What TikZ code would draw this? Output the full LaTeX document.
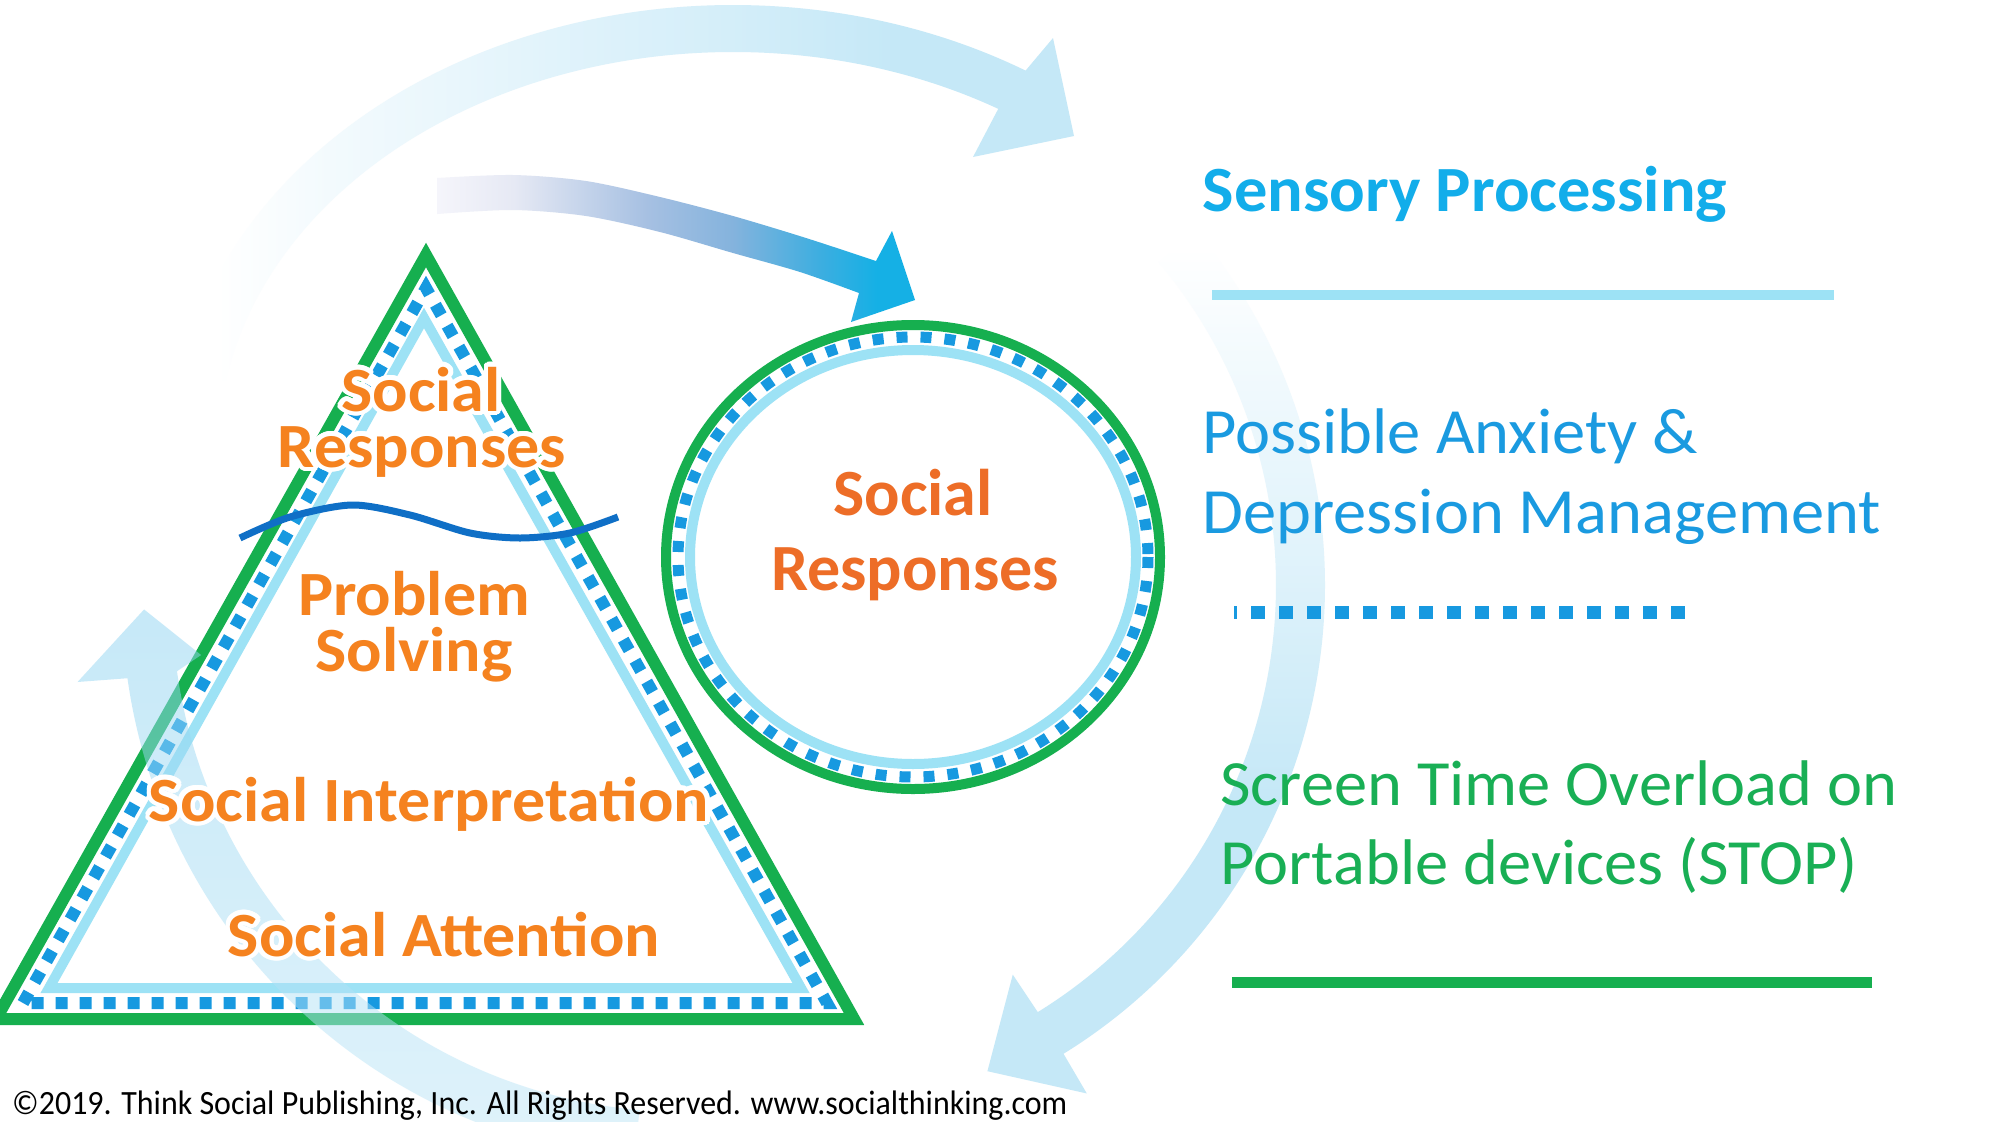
\documentclass[tikz,border=0pt]{standalone}
\usepackage{fontspec}
\setmainfont{Carlito}
\newfontfamily\copyfont[FakeStretch=0.94]{Carlito}
\newfontfamily\trifont[FakeStretch=1.048]{Carlito}
\newfontfamily\sidefont[FakeStretch=1.03]{Carlito}
\usepackage[copies]{contour}
\contourlength{4.5pt}
\contournumber{24}
\usetikzlibrary{calc}
\definecolor{arcblue}{HTML}{C5E8F7}
\definecolor{arcdeep}{HTML}{8FD4F2}
\definecolor{grn}{HTML}{16AF4F}
\definecolor{lblue}{HTML}{9DE2F5}
\definecolor{dblue}{HTML}{1799E0}
\definecolor{wave}{HTML}{0F6FC6}
\definecolor{orgT}{HTML}{F5821F}
\definecolor{orgC}{HTML}{ED6D27}
\definecolor{sens}{HTML}{12ADEA}
\definecolor{anx}{HTML}{1A9AE0}
\definecolor{stop}{HTML}{19AF55}
\definecolor{mA}{HTML}{F5F5FB}
\definecolor{mB}{HTML}{E6E9F4}
\definecolor{mC}{HTML}{A6C0E2}
\definecolor{mD}{HTML}{84B3DD}
\definecolor{mE}{HTML}{3DAEE0}
\definecolor{mF}{HTML}{15B0E5}
\pgfdeclarehorizontalshading{midshade}{100bp}{color(0bp)=(mA); color(25bp)=(mA); color(33bp)=(mB); color(47bp)=(mC); color(56bp)=(mD); color(65bp)=(mE); color(71bp)=(mF); color(100bp)=(mF)}
\pgfdeclarehorizontalshading{topshade}{100bp}{color(0bp)=(white); color(27bp)=(white); color(33bp)=(arcblue!20); color(47bp)=(arcblue!55); color(56bp)=(arcblue!75); color(65bp)=(arcblue); color(100bp)=(arcblue)}
\pgfdeclareverticalshading{rightshade}{100bp}{color(0bp)=(arcblue); color(42bp)=(arcblue); color(48bp)=(arcblue!80); color(56bp)=(arcblue!53); color(62bp)=(arcblue!38); color(68bp)=(arcblue!20); color(74bp)=(white); color(100bp)=(white)}
\pgfdeclarelayer{bg}
\pgfdeclarelayer{band}
\pgfsetlayers{bg,band,main}
\begin{document}
\begin{tikzpicture}[x=1pt,y=-1pt,
  tritext/.style={font=\trifont\fontsize{63}{63}\selectfont\bfseries, text=orgT, inner sep=0pt, anchor=base},
  circtext/.style={font=\fontsize{66}{66}\selectfont\bfseries, text=orgC, inner sep=0pt, anchor=base},
  sidetext/.style={font=\sidefont\fontsize{64.5}{64.5}\selectfont, inner sep=0pt, anchor=base west},
  greenline/.style={draw=grn, line width=12pt},
  dotline/.style={draw=dblue, line width=12pt, dash pattern=on 12pt off 12pt},
  paleline/.style={draw=lblue, line width=10pt}]
\useasboundingbox (0,0) rectangle (1998,1122);
\coordinate (tc) at (733,450);
\coordinate (rc) at (774,585);
\coordinate (lc) at (684,600);
\coordinate (cc) at (913,557);

\begin{pgfonlayer}{bg}
\fill[white] (0,0) rectangle (1998,1122);
% top big arc (elliptic)
\shade[shading=topshade]
 ($(tc)+(-170:560 and 445)$) arc[start angle=-170, end angle=-58.5, x radius=560, y radius=445]
 -- (1053,38) -- (1074,136) -- (973,157)
 -- ($(tc)+(-59:515 and 398)$) arc[start angle=-59, end angle=-170, x radius=515, y radius=398] -- cycle;
% right big arc
\shade[shading=rightshade]
 ($(rc)+(-40:551)$) arc[start angle=-40, end angle=58.3, radius=551]
 -- ($(rc)+(58.4:597)$) -- ($(rc)+(66.3:531)$) -- ($(rc)+(58.5:457)$)
 -- ($(rc)+(58.3:502)$) arc[start angle=58.3, end angle=-40, radius=502] -- cycle;
% middle gradient arrow
\shade[shading=midshade]
 plot[smooth] coordinates {(437,178) (513,175) (586,181) (660,197) (733,216) (806,238) (876,261)}
 -- (892,231) -- (915,300) -- (851,322)
 -- plot[smooth] coordinates {(859,293) (800,272) (733,253) (660,232) (586,216) (513,210) (437,214)}
 -- cycle;
% triangle
\draw[paleline, line join=miter] (49,988) -- (424,318) -- (801,988) -- cycle;
\draw[dotline] (23,1003) -- (426,288) -- (827,1003) -- cycle;
\draw[greenline, line join=miter] (-4,1019) -- (426,255) -- (854,1019) -- cycle;
% circle rings
\draw[draw=lblue, line width=10pt] (cc) ellipse [x radius=223, y radius=207];
\draw[draw=dblue, line width=11pt, dash pattern=on 11pt off 13pt] (cc) ellipse [x radius=235, y radius=220];
\draw[draw=grn, line width=10pt] (cc) ellipse [x radius=247, y radius=232];
% wavy line
\draw[wave, line width=7pt] plot[smooth] coordinates {(240,538) (290,517) (352,505) (410,515) (470,533) (520,538) (570,533) (618,517)};
% right-side lines
\draw[draw=lblue, line width=10pt] (1212,295) -- (1834,295);
\draw[draw=dblue, line width=13pt, dash pattern=on 14pt off 14pt, dash phase=11pt] (1234,612) -- (1685,612);
\draw[draw=grn, line width=11pt] (1232,982) -- (1872,982);
\end{pgfonlayer}

\begin{pgfonlayer}{band}
% lower-left big arc (semi transparent, over the triangle)
\shade[top color=arcdeep, bottom color=arcdeep!55, opacity=0.5]
 ($(lc)+(95:562)$) arc[start angle=95, end angle=172, radius=562]
 -- ($(lc)+(172.3:612)$) -- ($(lc)+(179:540)$) -- ($(lc)+(173.5:486)$)
 -- ($(lc)+(172:512)$) arc[start angle=172, end angle=95, radius=512] -- cycle;
\end{pgfonlayer}

% triangle labels (white glow)
\node[tritext] (tsoc) at (421,411) {\contour{white}{Social}};
\node[tritext] (tresp) at (422,467) {\contour{white}{Responses}};
\node[tritext] (tprob) at (414,615) {\contour{white}{Problem}};
\node[tritext] (tsolv) at (414,671) {\contour{white}{Solving}};
\node[tritext] (tinter) at (429,821) {\contour{white}{Social Interpretation}};
\node[tritext] (tatt) at (444,956) {\contour{white}{Social Attention}};

% circle labels
\node[circtext] (csoc) at (913,515) {Social};
\node[circtext] (cresp) at (915,590) {Responses};

% side labels
\node[sidetext, font=\sidefont\fontsize{64.5}{64.5}\selectfont\bfseries, text=sens] (sensory) at (1202.5,211) {Sensory Processing};
\node[sidetext, text=anx] (anx1) at (1202.5,453) {Possible Anxiety \&};
\node[sidetext, text=anx] (anx2) at (1202.5,533) {Depression Management};
\node[sidetext, text=stop] (stop1) at (1220,805) {Screen Time Overload on};
\node[sidetext, text=stop] (stop2) at (1220.5,884) {Portable devices (STOP)};

% copyright
\node[font=\copyfont\fontsize{34}{34}\selectfont, inner sep=0pt, anchor=base west] (copy) at (12,1114) {©2019. Think Social Publishing, Inc. All Rights Reserved. www.socialthinking.com};
\end{tikzpicture}
\end{document}
